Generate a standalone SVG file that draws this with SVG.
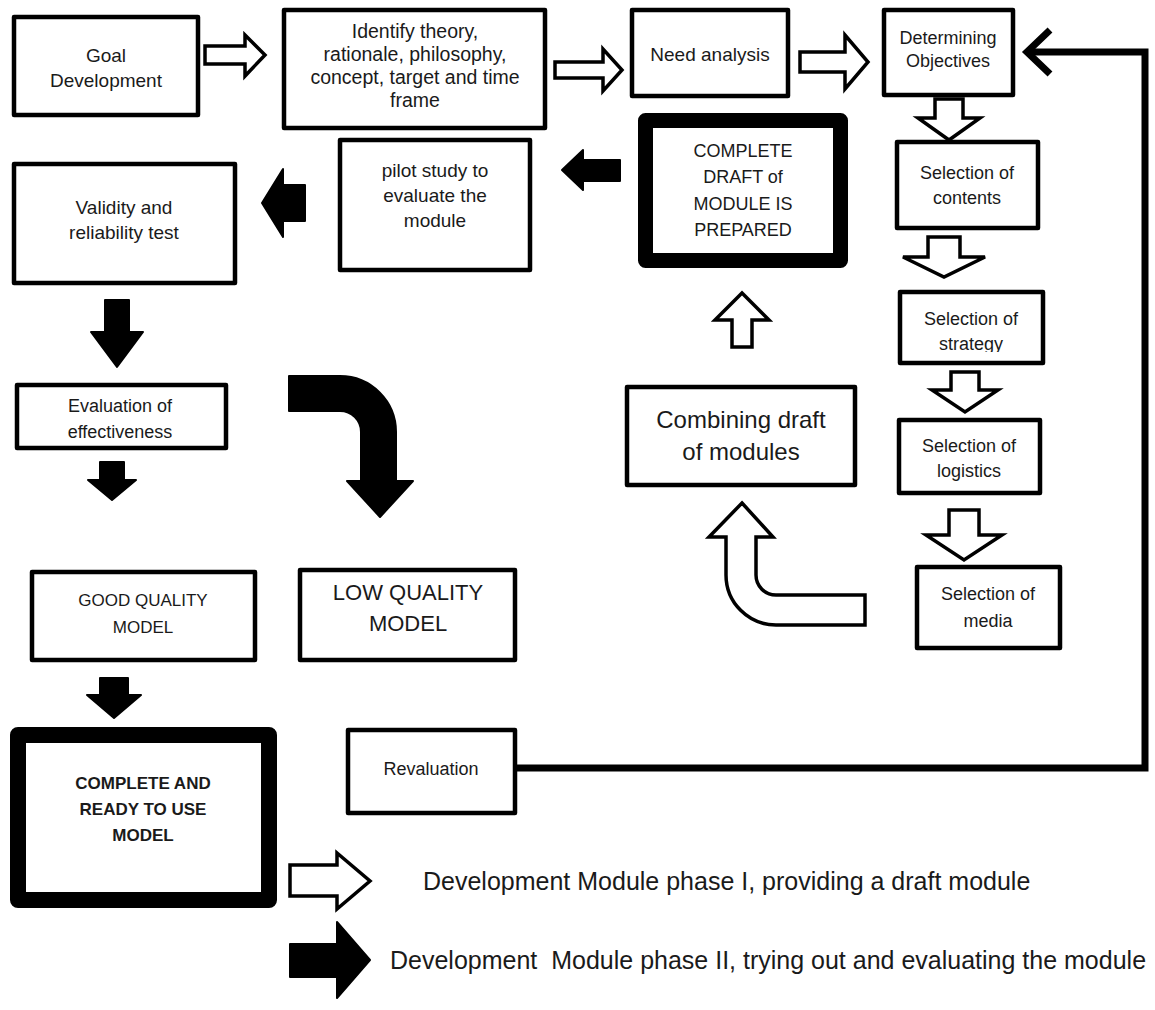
<svg xmlns="http://www.w3.org/2000/svg" width="1155" height="1010" viewBox="0 0 1155 1010">
<style>
.box{fill:#fff;stroke:#000;stroke-width:4.5;stroke-linejoin:round}
.thick{fill:#fff;stroke:#000;stroke-width:15;stroke-linejoin:round}
.t{font-family:"Liberation Sans",Arial,sans-serif;fill:#1a1a1a;text-anchor:middle}
.lg{font-family:"Liberation Sans",Arial,sans-serif;fill:#1a1a1a;font-size:25px}
.hollow{fill:#fff;stroke:#000;stroke-width:3.5;stroke-linejoin:miter}
.solid{fill:#000;stroke:#000;stroke-width:2;stroke-linejoin:round}
.line{fill:none;stroke:#000;stroke-width:7;stroke-linejoin:miter}
</style>
<defs>
<clipPath id="clipStrategy"><rect x="898" y="290" width="147" height="62"/></clipPath>
</defs>
<rect width="1155" height="1010" fill="#fff"/>

<g id="connectors">
  <polygon class="hollow" points="205,46 245,46 245,35 265,55 245,76 245,64 205,64"/>
  <polygon class="hollow" points="555,62 603,62 603,49 622,70 603,91 603,78 555,78"/>
  <polygon class="hollow" points="800,52 845,52 845,35 868,62 845,89 845,72 800,72"/>
  <polygon class="hollow" points="935,99 963,99 963,118 980,118 949,140 918,118 935,118"/>
  <polygon class="hollow" points="928,237 960,237 960,257 985,257 944,277 903,257 928,257"/>
  <polygon class="hollow" points="951,372 979,372 979,390 998,390 965,412 932,390 951,390"/>
  <polygon class="hollow" points="949,510 979,510 979,535 1002,535 964,560 926,535 949,535"/>
  <polygon class="hollow" points="732,347 752,347 752,320 769,320 742,293 715,320 732,320"/>
  <path class="hollow" d="M742,503 L773,537 H756 V575 A20,20 0 0 0 776,595 H865 V625 H776 A50,50 0 0 1 726,575 V537 H709 Z"/>
  <polygon class="solid" points="620,160 583,160 583,150 562,170 583,190 583,181 620,181"/>
  <polygon class="solid" points="305,185 283,185 283,169 262,203 283,237 283,221 305,221"/>
  <polygon class="solid" points="105,300 129,300 129,332 143,332 117,367 91,332 105,332"/>
  <path class="solid" d="M289,376 H340 A56,56 0 0 1 396,432 V481 H413 L380,517 L347,481 H361 V432 A21,21 0 0 0 340,411 H289 Z"/>
  <polygon class="solid" points="100,462 124,462 124,480 136,480 112,500 88,480 100,480"/>
  <polygon class="solid" points="100,678 128,678 128,695 141,695 114,718 87,695 100,695"/>
  <polyline class="line" points="517,768 1145,768 1145,52 1030,52"/>
  <polyline class="line" points="1050,30 1027,52 1050,74"/>
</g>

<g id="goal"><rect class="box" x="14" y="17" width="184" height="98"/>
<text class="t" font-size="19" x="106" y="62">Goal</text><text class="t" font-size="19" x="106" y="87">Development</text></g>

<g id="identify"><rect class="box" x="284" y="10" width="261" height="118"/>
<text class="t" font-size="19.5" x="415" y="38">Identify theory,</text>
<text class="t" font-size="19.5" x="415" y="61">rationale, philosophy,</text>
<text class="t" font-size="19.5" x="415" y="84">concept, target and time</text>
<text class="t" font-size="19.5" x="415" y="107">frame</text></g>

<g id="need"><rect class="box" x="632" y="10" width="156" height="86"/>
<text class="t" font-size="19" x="710" y="61">Need analysis</text></g>

<g id="objectives"><rect class="box" x="884" y="10" width="129" height="85"/>
<text class="t" font-size="18" x="948" y="44">Determining</text><text class="t" font-size="18" x="948" y="67">Objectives</text></g>

<g id="contents"><rect class="box" x="897" y="142" width="141" height="86"/>
<text class="t" font-size="18" x="967" y="179">Selection of</text><text class="t" font-size="18" x="967" y="204">contents</text></g>

<g id="strategy"><rect class="box" x="900" y="292" width="143" height="71"/>
<g clip-path="url(#clipStrategy)"><text class="t" font-size="18" x="971" y="325">Selection of</text><text class="t" font-size="18" x="971" y="350">strategy</text></g></g>

<g id="logistics"><rect class="box" x="899" y="420" width="141" height="73"/>
<text class="t" font-size="18" x="969" y="452">Selection of</text><text class="t" font-size="18" x="969" y="477">logistics</text></g>

<g id="media"><rect class="box" x="917" y="567" width="143" height="81"/>
<text class="t" font-size="18" x="988" y="600">Selection of</text><text class="t" font-size="18" x="988" y="627">media</text></g>

<g id="draft"><rect class="thick" x="645.5" y="120.5" width="195" height="140"/>
<text class="t" font-size="18" x="743" y="157">COMPLETE</text>
<text class="t" font-size="18" x="743" y="183">DRAFT of</text>
<text class="t" font-size="18" x="743" y="210">MODULE IS</text>
<text class="t" font-size="18" x="743" y="236">PREPARED</text></g>

<g id="pilot"><rect class="box" x="340" y="140" width="190" height="130"/>
<text class="t" font-size="19" x="435" y="177">pilot study to</text>
<text class="t" font-size="19" x="435" y="202">evaluate the</text>
<text class="t" font-size="19" x="435" y="227">module</text></g>

<g id="validity"><rect class="box" x="14" y="164" width="221" height="119"/>
<text class="t" font-size="19" x="124" y="214">Validity and</text>
<text class="t" font-size="19" x="124" y="239">reliability test</text></g>

<g id="evaluation"><rect class="box" x="17" y="385" width="209" height="63"/>
<text class="t" font-size="18" x="120" y="412">Evaluation of</text>
<text class="t" font-size="18" x="120" y="438">effectiveness</text></g>

<g id="combining"><rect class="box" x="627" y="387" width="228" height="98"/>
<text class="t" font-size="24" x="741" y="428">Combining draft</text>
<text class="t" font-size="24" x="741" y="460">of modules</text></g>

<g id="good"><rect class="box" x="32" y="572" width="223" height="88"/>
<text class="t" font-size="17" x="143" y="606">GOOD QUALITY</text>
<text class="t" font-size="17" x="143" y="633">MODEL</text></g>

<g id="low"><rect class="box" x="300" y="570" width="215" height="90"/>
<text class="t" font-size="22" x="408" y="600">LOW QUALITY</text>
<text class="t" font-size="22" x="408" y="631">MODEL</text></g>

<g id="ready"><rect class="thick" x="18" y="735" width="251" height="165" style="stroke-width:16"/>
<text class="t" font-size="17" font-weight="bold" x="143" y="789">COMPLETE AND</text>
<text class="t" font-size="17" font-weight="bold" x="143" y="815">READY TO USE</text>
<text class="t" font-size="17" font-weight="bold" x="143" y="841">MODEL</text></g>

<g id="revaluation"><rect class="box" x="348" y="730" width="167" height="83"/>
<text class="t" font-size="18" x="431" y="775">Revaluation</text></g>

<g id="legend">
<polygon class="hollow" points="290,865 337,865 337,853 370,881 337,909 337,896 290,896"/>
<text class="lg" x="423" y="890">Development Module phase I, providing a draft module</text>
<polygon class="solid" points="290,944 337,944 337,922 370,960 337,998 337,977 290,977"/>
<text class="lg" x="390" y="969" xml:space="preserve">Development  Module phase II, trying out and evaluating the module</text>
</g>
</svg>
